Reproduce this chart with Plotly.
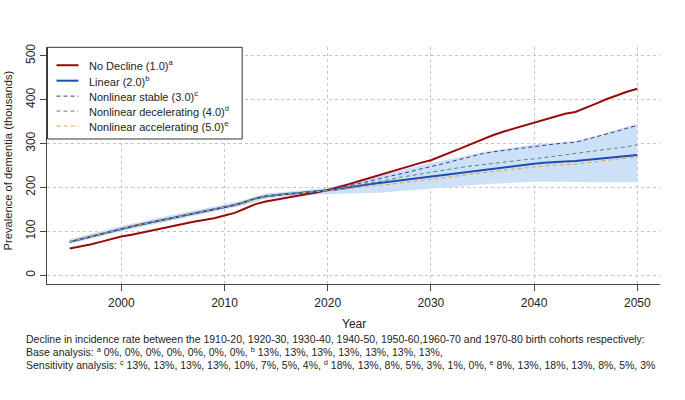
import plotly.graph_objects as go

# ---------------- data ----------------
years = list(range(1995, 2051))
no_decline = [61, 65, 70, 76, 82, 88, 92, 97, 103, 107, 112, 117, 122, 126, 130,
              136, 142, 152, 162, 168, 172, 176, 180, 185, 189, 194, 200, 207, 214, 221,
              228, 236, 243, 250, 256, 262, 271, 280, 290, 300, 310, 319, 327, 334, 341,
              348, 355, 362, 368, 372, 381, 391, 401, 410, 418, 425]
linear = [76, 82, 87, 93, 99, 105, 111, 116, 121, 126, 131, 136, 140, 145, 150,
          155, 160, 167, 175, 180, 183, 185, 187, 189, 191, 193, 196, 200, 204, 207,
          210, 213, 216, 219, 221, 224, 227, 230, 233, 236, 239, 242, 245, 248, 251,
          254, 256, 258, 259, 260, 263, 265, 267, 269, 271, 274]

proj_years = list(range(2020, 2051))
nl_stable = [193, 198, 203, 209, 214, 220, 225, 231, 236, 242, 247, 253, 259, 265, 271,
             277, 281, 284, 288, 291, 294, 297, 299, 301, 303, 309, 315, 322, 328, 335, 341]
nl_decel = [193, 197, 201, 206, 210, 214, 218, 223, 227, 231, 235, 239, 242, 246, 249,
            252, 255, 258, 260, 263, 265, 268, 271, 274, 277, 280, 283, 287, 290, 293, 297]
nl_accel = [192, 194, 197, 200, 202, 205, 207, 210, 213, 215, 218, 221, 224, 228, 231,
            234, 237, 240, 242, 244, 247, 249, 251, 252, 253, 256, 259, 262, 265, 268, 270]

band_years = [1995, 2000, 2005, 2010, 2012, 2014, 2016, 2018, 2020, 2022, 2025, 2028,
              2030, 2033, 2035, 2038, 2040, 2042, 2044, 2046, 2048, 2050]
band_low = [71, 100, 125, 149, 160, 174, 180, 183, 185, 186, 188, 193,
            197, 203, 207, 211, 213, 213, 212, 212, 212, 212]
band_high = [82, 112, 138, 161, 172, 186, 190, 194, 199, 210, 226, 245,
             256, 270, 281, 291, 298, 302, 306, 318, 331, 345]

x_ticks = [2000, 2010, 2020, 2030, 2040, 2050]
y_ticks = [0, 100, 200, 300, 400, 500]

legend_names = ["No Decline (1.0)<sup>a</sup>", "Linear (2.0)<sup>b</sup>",
                "Nonlinear stable (3.0)<sup>c</sup>", "Nonlinear decelerating (4.0)<sup>d</sup>",
                "Nonlinear accelerating (5.0)<sup>e</sup>"]

foot1 = ("Decline in incidence rate between the 1910-20, 1920-30, 1930-40, 1940-50, "
         "1950-60,1960-70 and 1970-80 birth cohorts respectively:")
foot2 = ("Base analysis: <sup>a</sup> 0%, 0%, 0%, 0%, 0%, 0%, 0%, "
         "<sup>b</sup> 13%, 13%, 13%, 13%, 13%, 13%, 13%,")
foot3 = ("Sensitivity analysis: <sup>c</sup> 13%, 13%, 13%, 13%, 10%, 7%, 5%, 4%, "
         "<sup>d</sup> 18%, 13%, 8%, 5%, 3%, 1%, 0%, <sup>e</sup> 8%, 13%, 18%, 13%, 8%, 5%, 3%")

# history (pre-2020) shared by all projections
hist_years = [y for y in years if y < 2020]
hist_vals = [v for y, v in zip(years, linear) if y < 2020]

RED = "#9B0A0A"
BLUE = "#1D4CB5"
NAVY = "#3B3B8C"
GREEN = "#4E8F6E"
ORANGE = "#E6A23C"
BAND = "#CCE0F7"
DASH = "4px,3px"

series_styles = [(RED, 2, "solid"), (BLUE, 2, "solid"), (NAVY, 1, DASH),
                 (GREEN, 1, DASH), (ORANGE, 1, DASH)]

fig = go.Figure()

# uncertainty band
fig.add_trace(go.Scatter(x=band_years, y=band_low, mode="lines",
                         line=dict(width=0, color=BAND), showlegend=False, hoverinfo="skip"))
fig.add_trace(go.Scatter(x=band_years, y=band_high, mode="lines", fill="tonexty",
                         fillcolor=BAND, line=dict(width=0, color=BAND),
                         showlegend=False, hoverinfo="skip"))

series = [(years, no_decline), (years, linear),
          (hist_years + proj_years, hist_vals + nl_stable),
          (hist_years + proj_years, hist_vals + nl_decel),
          (hist_years + proj_years, hist_vals + nl_accel)]
for (xs, ys), name, (col, w, dash) in zip(series, legend_names, series_styles):
    fig.add_trace(go.Scatter(x=xs, y=ys, mode="lines", name=name, showlegend=False,
                             line=dict(color=col, width=w, dash=dash)))

axis_common = dict(
    showline=True, linecolor="#444", linewidth=1, mirror=False,
    ticks="outside", ticklen=6, tickcolor="#444", tickwidth=1,
    showgrid=True, gridcolor="#c4c4c4", griddash="dot", gridwidth=1,
    zeroline=False, tickfont=dict(size=12, color="#222"),
)

fig.update_xaxes(range=[1992.8, 2052.2], tickvals=x_ticks, ticklabelstandoff=2, **axis_common)
fig.update_yaxes(range=[-20, 520], tickvals=y_ticks, tickangle=-90, **axis_common)

fig.update_layout(
    width=685, height=400,
    margin=dict(l=46.5, r=24.5, t=46.7, b=115.5, autoexpand=False),
    plot_bgcolor="white", paper_bgcolor="white",
    font=dict(family="Liberation Sans, Arial, sans-serif", color="#222"),
    showlegend=False,
)

# helpers: window pixel -> paper coords (plot area is x 46.5..660.5, y 46.7..284.5)
def py2p(py):
    return (284.5 - py) / 237.8

def px2p(px):
    return (px - 46.5) / 614.0

# legend box (drawn on top like R's legend())
fig.add_shape(type="rect", xref="paper", yref="paper", layer="above",
              x0=px2p(47), x1=px2p(242), y0=py2p(139), y1=py2p(47),
              line=dict(color="#333", width=1), fillcolor="white")
row_y = [65, 80.5, 96, 111, 126]
for ry, name, (col, w, dash) in zip(row_y, legend_names, series_styles):
    fig.add_shape(type="line", xref="paper", yref="paper", layer="above",
                  x0=px2p(56), x1=px2p(78), y0=py2p(ry), y1=py2p(ry),
                  line=dict(color=col, width=w, dash=dash))
    fig.add_annotation(xref="paper", yref="paper", showarrow=False, text=name,
                       x=px2p(87), y=py2p(ry), xanchor="left", yanchor="middle",
                       font=dict(size=11, color="#222"))

annos = [
    dict(text="Year", x=0.5, y=py2p(325), xanchor="center", yanchor="middle",
         font=dict(size=12, color="#222")),
    dict(text="Prevalence of dementia (thousands)", x=px2p(7), y=py2p(161),
         textangle=-90, xanchor="center", yanchor="middle", font=dict(size=11.2, color="#222")),
    dict(text=foot1, x=px2p(23.5), y=py2p(340), xanchor="left",
         yanchor="middle", font=dict(size=10.5, color="#222")),
    dict(text=foot2, x=px2p(23.5), y=py2p(352.7), xanchor="left",
         yanchor="middle", font=dict(size=10.5, color="#222")),
    dict(text=foot3, x=px2p(23.5), y=py2p(365), xanchor="left",
         yanchor="middle", font=dict(size=10.5, color="#222")),
]
for a in annos:
    fig.add_annotation(xref="paper", yref="paper", showarrow=False, **a)

# remove the browser's default 8px body margin so the figure sits at the window's corner
fig.write_html("out.html", config={"displayModeBar": False},
               post_script="document.body.style.margin='0px';")
